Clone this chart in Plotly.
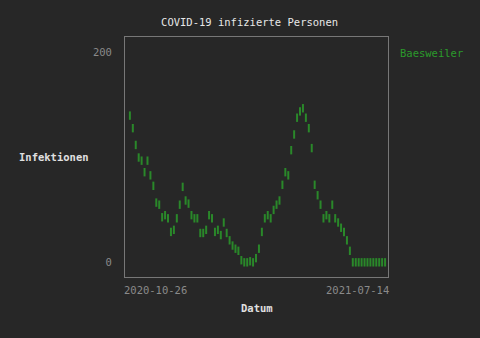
import plotly.graph_objects as go
import pandas as pd

start_date = "2020-10-26"
end_date = "2021-07-14"
step_days = 3
series_name = "Baesweiler"
infections = [140, 128, 112, 100, 97, 86, 97, 83, 73, 57, 55, 43, 45, 42, 29, 31,
              42, 55, 72, 59, 56, 45, 42, 42, 28, 28, 31, 45, 42, 29, 31, 26,
              38, 28, 21, 16, 13, 11, 2, 0, 0, 1, 0, 4, 13, 29, 42, 45,
              42, 50, 55, 59, 74, 86, 83, 107, 122, 138, 144, 147, 138, 128, 109, 74,
              64, 55, 42, 45, 42, 55, 42, 38, 33, 29, 21, 11, 0, 0, 0, 0,
              0, 0, 0, 0, 0, 0, 0, 0]
y_tick_vals = [0, 200]
x_tick_labels = [start_date, end_date]

dates = pd.date_range(start_date, periods=len(infections), freq=f"{step_days}D")

BG = "#272727"
GREEN = "#2b9a2b"
GREY = "#8a8a8a"
FONT = "DejaVu Sans Mono"

fig = go.Figure()
fig.add_trace(go.Scatter(
    x=dates, y=infections, mode="markers", name=series_name,
    marker=dict(symbol="line-ns-open", size=6, color=GREEN,
                line=dict(color=GREEN, width=2)),
    opacity=0.85,
    showlegend=False,
))

fig.update_layout(
    width=480, height=338,
    paper_bgcolor=BG, plot_bgcolor=BG,
    margin=dict(l=125, r=92, t=37, b=61),
    font=dict(family=FONT, size=10.5, color=GREY),
    title=dict(text="COVID-19 infizierte Personen", x=0.52, xanchor="center",
               y=0.935, yanchor="middle",
               font=dict(family=FONT, size=10.5, color="#e8e8e8")),
)
fig.update_xaxes(
    range=[pd.Timestamp(start_date) - pd.Timedelta(days=5), pd.Timestamp(end_date) + pd.Timedelta(days=3)],
    showticklabels=False, showgrid=False, zeroline=False, ticks="",
    showline=True, linecolor="#777777", linewidth=1, mirror=True,
)
fig.update_yaxes(
    range=[-14, 215], tickvals=y_tick_vals, ticktext=[str(v) for v in y_tick_vals],
    showgrid=False, zeroline=False, ticks="", ticklabelstandoff=10,
    tickfont=dict(color=GREY, size=10.5, family=FONT),
    showline=True, linecolor="#777777", linewidth=1, mirror=True,
)
fig.add_annotation(text=x_tick_labels[0], xref="paper", yref="paper", x=0, y=0,
                   xanchor="left", yanchor="top", yshift=-5, xshift=-3, showarrow=False,
                   font=dict(color=GREY, size=10.5, family=FONT))
fig.add_annotation(text=x_tick_labels[1], xref="paper", yref="paper", x=1, y=0,
                   xanchor="right", yanchor="top", yshift=-5, xshift=3, showarrow=False,
                   font=dict(color=GREY, size=10.5, family=FONT))
fig.add_annotation(text="<b>Datum</b>", xref="paper", yref="paper", x=0.5, y=0,
                   xanchor="center", yanchor="top", yshift=-23, showarrow=False,
                   font=dict(color="#e0e0e0", size=10.5, family=FONT))
fig.add_annotation(text="<b>Infektionen</b>", xref="paper", yref="paper", x=0, y=0.5,
                   xanchor="right", yanchor="middle", xshift=-34, showarrow=False,
                   font=dict(color="#e0e0e0", size=10.5, family=FONT))
fig.add_annotation(text=series_name, xref="paper", yref="paper", x=1, y=1,
                   xanchor="left", yanchor="middle", xshift=10, yshift=-16, showarrow=False,
                   font=dict(color=GREEN, size=10.5, family=FONT))

fig.write_html("out.html")
